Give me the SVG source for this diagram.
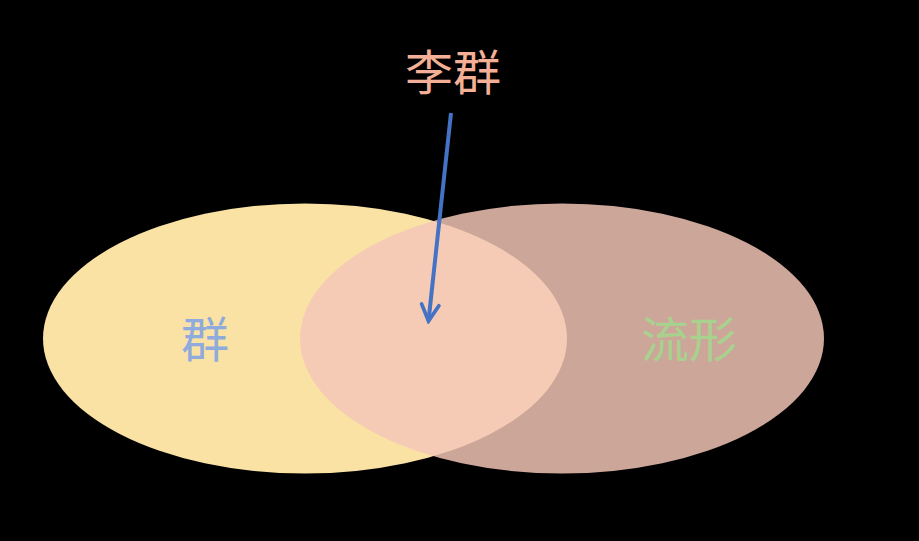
<svg xmlns="http://www.w3.org/2000/svg" width="919" height="541" viewBox="0 0 919 541">
<defs>
<style>
.lbl{font-family:"Noto Sans CJK SC","Noto Sans",sans-serif;font-size:48px;text-anchor:middle}
</style>
<marker id="ah" viewBox="0 0 20 20" refX="17" refY="10" markerWidth="5.8" markerHeight="5.8" markerUnits="strokeWidth" orient="auto">
<path d="M3,2.5 L17,10 L3,17.5" fill="none" stroke="#4472C4" stroke-width="3.2" stroke-linecap="round" stroke-linejoin="miter"/>
</marker>
</defs>
<rect width="919" height="541" fill="#000"/>
<g id="group">
<ellipse cx="305" cy="338.5" rx="262" ry="135" fill="#F9E2A4"/>
<text class="lbl" x="205" y="357" fill="#8FAADC">群</text>
</g>
<g id="manifold">
<ellipse cx="562" cy="338.5" rx="262" ry="135" fill="#F5C7B8" fill-opacity="0.835"/>
<text class="lbl" x="689" y="357" fill="#A9D18E">流形</text>
</g>
<g id="liegroup">
<text class="lbl" x="453" y="90" fill="#F4B096">李群</text>
</g>
<g id="connectors">
<line x1="451" y1="113" x2="428.5" y2="321" stroke="#4472C4" stroke-width="4" marker-end="url(#ah)"/>
</g>
</svg>
